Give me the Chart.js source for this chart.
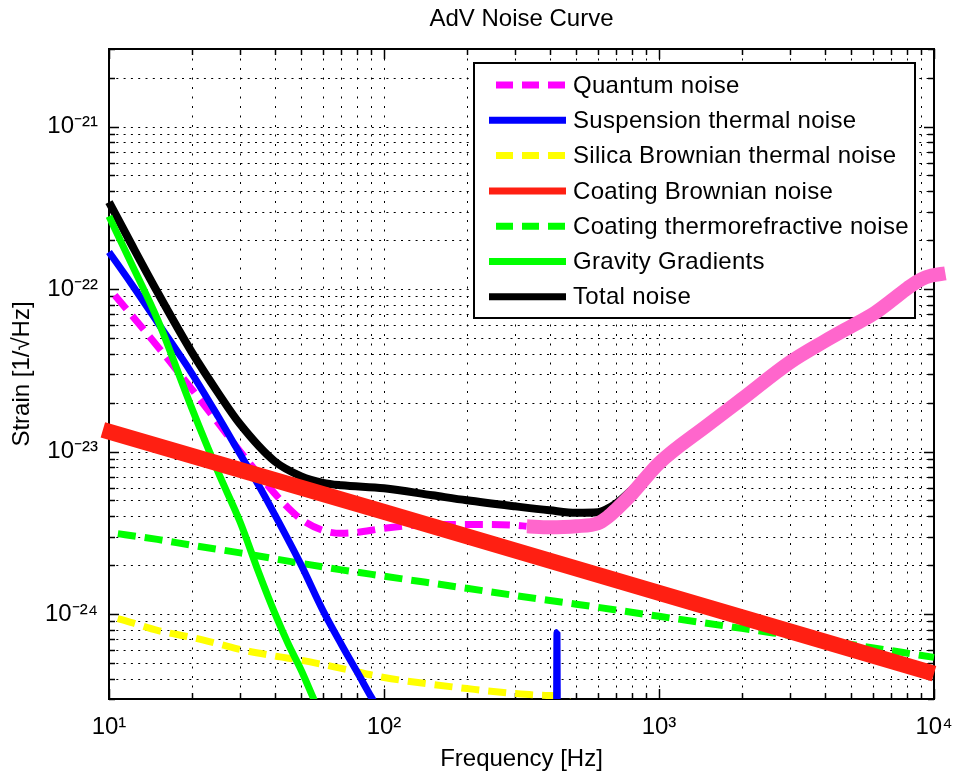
<!DOCTYPE html>
<html>
<head>
<meta charset="utf-8">
<script src="https://cdn.jsdelivr.net/npm/chart.js@4.4.1/dist/chart.umd.min.js"></script>
<style>
  html, body { margin: 0; padding: 0; background: #ffffff; }
  #c { display: block; }
</style>
</head>
<body>
<canvas id="c" width="953" height="774"></canvas>
<script>
// ---------------- data ----------------
const xMin = 10, xMax = 10000;
const yMin = 3e-25, yMax = 3e-21;
const gridMantissas = [1, 2, 3, 4, 5, 6, 7, 8, 9];
const xDecades = [1, 2, 3, 4];
const yDecades = [-25, -24, -23, -22, -21];

const quantumFreq  = [10, 12, 15, 20, 25, 30, 35, 40, 45, 50, 60, 70, 80, 100, 150, 200, 300, 330];
const quantumNoise = [1.01e-22, 7.0e-23, 4.45e-23, 2.42e-23, 1.49e-23, 1.0e-23, 7.24e-24, 5.53e-24, 4.48e-24, 3.83e-24, 3.27e-24, 3.14e-24, 3.18e-24, 3.37e-24, 3.56e-24, 3.56e-24, 3.52e-24, 3.47e-24];

const quantumHFFreq  = [331, 400, 500, 600, 650, 700, 800, 1000, 1500, 2000, 3000, 4000, 5000, 6000, 7000, 8000, 9000, 9800, 11000];
const quantumHFNoise = [3.47e-24, 3.42e-24, 3.47e-24, 3.62e-24, 3.94e-24, 4.41e-24, 5.53e-24, 8.47e-24, 1.45e-23, 2.1e-23, 3.55e-23, 4.77e-23, 5.9e-23, 7.0e-23, 8.48e-23, 1.01e-22, 1.15e-22, 1.21e-22, 1.25e-22];

const suspensionFreq  = [10, 12, 15, 20, 25, 30, 35, 40, 50, 60, 70, 80, 90, 100, 200, 424, 425.6, 427];
const suspensionNoise = [1.69e-22, 1.09e-22, 6.25e-23, 3.03e-23, 1.63e-23, 9.62e-24, 6.2e-24, 4.11e-24, 2.0e-24, 1.05e-24, 6.5e-25, 4.38e-25, 3.07e-25, 2.28e-25, null, 2.0e-25, 7.7e-25, 2.0e-25];

const silicaFreq  = [10, 12, 15, 20, 25, 30, 40, 50, 70, 100, 150, 200, 300, 400, 460, 475];
const silicaNoise = [9.68e-25, 8.89e-25, 7.93e-25, 7.18e-25, 6.55e-25, 6.05e-25, 5.52e-25, 5.19e-25, 4.63e-25, 4.07e-25, 3.69e-25, 3.48e-25, 3.24e-25, 3.15e-25, 3.07e-25, 2.6e-25];

const coatingBrownFreq  = [9.5, 100, 1000, 10000];
const coatingBrownNoise = [1.36e-23, 4.25e-24, 1.35e-24, 4.3e-25];

const coatingTRFreq  = [10, 15, 20, 30, 50, 70, 100, 200, 300, 500, 1000, 2000, 5000, 10000];
const coatingTRNoise = [3.18e-24, 2.88e-24, 2.65e-24, 2.38e-24, 2.05e-24, 1.87e-24, 1.71e-24, 1.44e-24, 1.30e-24, 1.15e-24, 9.68e-25, 8.16e-25, 6.5e-25, 5.41e-25];

const gravityFreq  = [10, 12, 15, 20, 25, 30, 35, 40, 45, 50, 55, 60];
const gravityNoise = [2.8e-22, 1.46e-22, 6.52e-23, 1.85e-23, 7.38e-24, 3.67e-24, 1.81e-24, 1.02e-24, 6.47e-25, 4.51e-25, 3.11e-25, 2.21e-25];

const totalFreq  = [10, 12, 15, 20, 25, 30, 40, 50, 60, 70, 100, 150, 200, 300, 400, 500, 600, 650, 700, 800, 1000, 1500, 2000, 3000, 4000, 5000, 6000, 7000, 8000, 9000, 10000];
const totalNoise = [3.43e-22, 1.92e-22, 9.57e-23, 4.09e-23, 2.28e-23, 1.47e-23, 8.71e-24, 7.04e-24, 6.42e-24, 6.2e-24, 5.94e-24, 5.38e-24, 5.01e-24, 4.6e-24, 4.35e-24, 4.2e-24, 4.23e-24, 4.45e-24, 4.8e-24, 5.86e-24, 8.6e-24, 1.46e-23, 2.11e-23, 3.56e-23, 4.78e-23, 5.91e-23, 7.01e-23, 8.5e-23, 1.012e-22, 1.152e-22, 1.215e-22];

// ---------------- helpers ----------------
const FONT = '"Liberation Sans", Arial, Helvetica, sans-serif';
const SUP = {'-': '\u207B', '0': '\u2070', '1': '\u00B9', '2': '\u00B2', '3': '\u00B3', '4': '\u2074', '5': '\u2075', '6': '\u2076', '7': '\u2077', '8': '\u2078', '9': '\u2079'};
function isPow10(v) { const l = Math.log10(v); return Math.abs(l - Math.round(l)) < 1e-6; }
function powLabel(v) {
  if (!isPow10(v)) return '';
  const e = String(Math.round(Math.log10(v)));
  return '10' + e.split('').map(c => SUP[c]).join('');
}
function gridValues(decades, lo, hi) {
  const out = [];
  decades.forEach(d => gridMantissas.forEach(m => {
    const v = parseFloat(m + 'e' + d);
    if (v >= lo * (1 - 1e-9) && v <= hi * (1 + 1e-9)) out.push(v);
  }));
  if (out[0] > lo * (1 + 1e-9)) out.unshift(lo);
  if (out[out.length - 1] < hi * (1 - 1e-9)) out.push(hi);
  return out;
}
const xGrid = gridValues(xDecades, xMin, xMax);
const yGrid = gridValues(yDecades, yMin, yMax);
const pts = (fs, vs) => fs.map((f, i) => ({x: f, y: vs[i]}));

const clipBottom = {left: 20, top: 20, right: 20, bottom: 0};
const DASH = [18, 9];

// ---------------- plugins ----------------
function drawLegend(chart) {
  const ctx = chart.ctx, a = chart.chartArea;
  const w = 441, h = 255;
  const right = a.right - 19, top = a.top + 14, left = right - w;
  ctx.save();
  ctx.fillStyle = '#ffffff';
  ctx.fillRect(left, top, w, h);
  ctx.lineWidth = 2;
  ctx.strokeStyle = '#000000';
  ctx.setLineDash([]);
  ctx.strokeRect(left, top, w, h);
  const items = chart.data.datasets.filter(d => d.inLegend !== false);
  items.forEach((ds, i) => {
    const y = top + 22 + i * 35.3;
    ctx.beginPath();
    ctx.lineWidth = 7;
    ctx.lineCap = 'butt';
    ctx.strokeStyle = ds.borderColor;
    if (ds.borderDash && ds.borderDash.length) {
      ctx.setLineDash([17, 9]);
      ctx.moveTo(left + 22, y);
    } else {
      ctx.setLineDash([]);
      ctx.moveTo(left + 15, y);
    }
    ctx.lineTo(left + 92, y);
    ctx.stroke();
    ctx.setLineDash([]);
    ctx.fillStyle = '#000000';
    ctx.font = '24px ' + FONT;
    if ('letterSpacing' in ctx) ctx.letterSpacing = '0.3px';
    ctx.textAlign = 'left';
    ctx.textBaseline = 'middle';
    ctx.fillText(ds.label, left + 99, y + 1);
    if ('letterSpacing' in ctx) ctx.letterSpacing = '0px';
  });
  ctx.restore();
}

const legendPlugin = {
  id: 'matlabLegend',
  beforeDatasetDraw(chart, args) {
    const ds = chart.data.datasets[args.index];
    if (ds.inLegend === false) drawLegend(chart);
  }
};

const framePlugin = {
  id: 'matlabFrame',
  beforeDatasetsDraw(chart) {
    const {ctx, chartArea: a} = chart;
    const xs = chart.scales.x, ys = chart.scales.y;
    ctx.save();
    // dotted grid, from the scales' own ticks
    ctx.strokeStyle = '#000000';
    ctx.lineWidth = 1;
    ctx.setLineDash([2, 5.3]);
    ctx.beginPath();
    ys.ticks.forEach(t => {
      const p = Math.round(ys.getPixelForValue(t.value)) + 0.5;
      ctx.moveTo(a.left, p); ctx.lineTo(a.right, p);
    });
    ctx.stroke();
    ctx.setLineDash([2, 7.5]);
    ctx.beginPath();
    xs.ticks.forEach(t => {
      const p = Math.round(xs.getPixelForValue(t.value)) + 0.5;
      ctx.moveTo(p, a.top); ctx.lineTo(p, a.bottom);
    });
    ctx.stroke();
    // tick marks inside the box
    ctx.setLineDash([]);
    ctx.lineWidth = 1.5;
    ctx.beginPath();
    xs.ticks.forEach(t => {
      const p = Math.round(xs.getPixelForValue(t.value)) + 0.5;
      const L = isPow10(t.value) ? 10 : 6;
      ctx.moveTo(p, a.bottom); ctx.lineTo(p, a.bottom - L);
      ctx.moveTo(p, a.top); ctx.lineTo(p, a.top + L);
    });
    ys.ticks.forEach(t => {
      const p = Math.round(ys.getPixelForValue(t.value)) + 0.5;
      const L = isPow10(t.value) ? 10 : 6;
      ctx.moveTo(a.left, p); ctx.lineTo(a.left + L, p);
      ctx.moveTo(a.right, p); ctx.lineTo(a.right - L, p);
    });
    ctx.stroke();
    ctx.lineWidth = 2;
    ctx.strokeRect(a.left, a.top, a.right - a.left, a.bottom - a.top);
    ctx.restore();
  }
};

// ---------------- chart ----------------
Chart.defaults.font.family = FONT;
Chart.defaults.color = '#000000';

const lineBase = {pointRadius: 0, fill: false, cubicInterpolationMode: 'monotone', borderCapStyle: 'butt', borderJoinStyle: 'round', spanGaps: false};

new Chart(document.getElementById('c'), {
  type: 'line',
  data: {
    datasets: [
      Object.assign({}, lineBase, {label: 'Quantum noise', data: pts(quantumFreq, quantumNoise), borderColor: '#ff00ff', borderWidth: 7, borderDash: DASH, borderDashOffset: 18, order: 4}),
      Object.assign({}, lineBase, {label: 'Suspension thermal noise', data: pts(suspensionFreq, suspensionNoise), borderColor: '#0000ff', borderWidth: 7, borderJoinStyle: 'bevel', clip: clipBottom, order: 3}),
      Object.assign({}, lineBase, {label: 'Silica Brownian thermal noise', data: pts(silicaFreq, silicaNoise), borderColor: '#ffff00', borderWidth: 7, borderDash: DASH, borderDashOffset: 18, clip: clipBottom, order: 5}),
      Object.assign({}, lineBase, {label: 'Coating Brownian noise', data: pts(coatingBrownFreq, coatingBrownNoise), borderColor: '#ff1f12', borderWidth: 16, cubicInterpolationMode: 'default', tension: 0, clip: false, order: 1}),
      Object.assign({}, lineBase, {label: 'Coating thermorefractive noise', data: pts(coatingTRFreq, coatingTRNoise), borderColor: '#00ff00', borderWidth: 7, borderDash: DASH, borderDashOffset: 18, clip: clipBottom, order: 6}),
      Object.assign({}, lineBase, {label: 'Gravity Gradients', data: pts(gravityFreq, gravityNoise), borderColor: '#00ff00', borderWidth: 7, clip: clipBottom, order: 2}),
      Object.assign({}, lineBase, {label: 'Total noise', data: pts(totalFreq, totalNoise), borderColor: '#000000', borderWidth: 8, clip: clipBottom, order: 7}),
      Object.assign({}, lineBase, {label: 'Quantum noise (high frequency)', inLegend: false, data: pts(quantumHFFreq, quantumHFNoise), borderColor: '#ff66cc', borderWidth: 14, clip: false, order: 0})
    ]
  },
  options: {
    responsive: false,
    animation: false,
    devicePixelRatio: 1,
    events: [],
    layout: {padding: {left: 0, right: 19, top: 0, bottom: 0}},
    plugins: {
      legend: {display: false},
      tooltip: {enabled: false},
      title: {
        display: true, text: 'AdV Noise Curve', color: '#000000', fullSize: false,
        font: {family: FONT, size: 24, weight: 'normal'},
        padding: {top: 4.6, bottom: 15.6}
      }
    },
    scales: {
      x: {
        type: 'logarithmic', min: xMin, max: xMax,
        afterBuildTicks: s => { s.ticks = xGrid.map(v => ({value: v})); },
        afterFit: s => { s.height = 75; s.paddingLeft = 0; s.paddingRight = 0; },
        ticks: {autoSkip: false, maxRotation: 0, minRotation: 0, padding: 14, color: '#000000',
                font: {family: FONT, size: 24}, callback: v => powLabel(v)},
        grid: {display: false, drawTicks: false},
        border: {display: false},
        title: {display: true, text: 'Frequency [Hz]', color: '#000000', font: {family: FONT, size: 24},
                padding: {top: 0, bottom: 0}}
      },
      y: {
        type: 'logarithmic', min: yMin, max: yMax,
        afterBuildTicks: s => { s.ticks = yGrid.map(v => ({value: v})); },
        afterFit: s => { s.width = 109; s.paddingTop = 0; s.paddingBottom = 0; },
        ticks: {autoSkip: false, padding: 11, color: '#000000',
                font: {family: FONT, size: 24}, callback: v => powLabel(v)},
        grid: {display: false, drawTicks: false},
        border: {display: false},
        title: {display: true, text: 'Strain [1/\u221AHz]', color: '#000000', font: {family: FONT, size: 24},
                padding: {top: 8, bottom: 0}}
      }
    }
  },
  plugins: [framePlugin, legendPlugin]
});
</script>
</body>
</html>
